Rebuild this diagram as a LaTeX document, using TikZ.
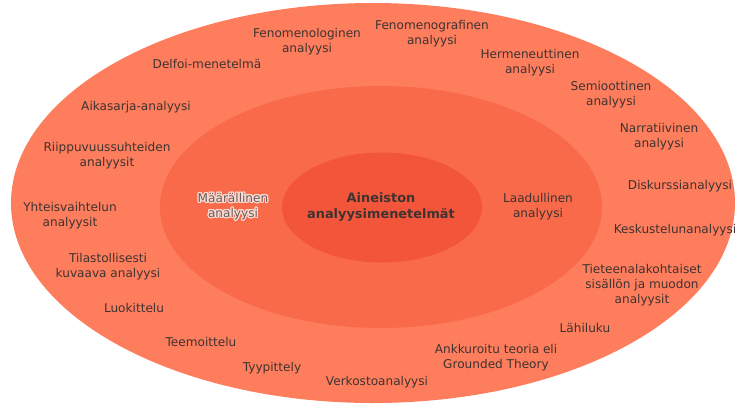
\documentclass[tikz,border=0pt]{standalone}
\usepackage{fontspec}
\setmainfont{DejaVu Sans}
\usepackage{contour}
\contourlength{1.1pt}
\contournumber{24}
\definecolor{outerc}{HTML}{FE7D5C}
\definecolor{midc}{HTML}{F86A4A}
\definecolor{innerc}{HTML}{F3553A}
\definecolor{txt}{HTML}{3E3331}
\begin{document}
\begin{tikzpicture}[x=1pt,y=-1pt,
  lbl/.style={align=center,text=txt,font=\fontsize{12.1}{15}\selectfont,inner sep=0pt}]
\useasboundingbox (0,0) rectangle (739,405);
\fill[outerc] (373,203) ellipse [x radius=362, y radius=200];
\fill[midc] (381,207) ellipse [x radius=221, y radius=121];
\fill[innerc] (382,207.5) ellipse [x radius=100, y radius=55];
% centre
\node[lbl,font=\bfseries\fontsize{12.9}{16}\selectfont] (centre) at (381,207) {Aineiston\\analyysimenetelmät};
\node[lbl,text=txt!80!white] (maar) at (233,207) {\contour{white!75!midc}{Määrällinen}\\\contour{white!75!midc}{analyysi}};
\node[lbl] (laad) at (538,207) {Laadullinen\\analyysi};
% outer ring
\node[lbl] (fenol) at (307,42) {Fenomenologinen\\analyysi};
\node[lbl] (delfoi) at (207,64) {Delfoi-menetelmä};
\node[lbl] (aika) at (136,107) {Aikasarja-analyysi};
\node[lbl] (riipp) at (107,156) {Riippuvuussuhteiden\\analyysit};
\node[lbl] (yhteis) at (70,216) {Yhteisvaihtelun\\analyysit};
\node[lbl] (tilast) at (108,267) {Tilastollisesti\\kuvaava analyysi};
\node[lbl] (luok) at (134,308) {Luokittelu};
\node[lbl] (teem) at (201,342) {Teemoittelu};
\node[lbl] (tyyp) at (272,368) {Tyypittely};
\node[lbl] (verk) at (377,382) {Verkostoanalyysi};
\node[lbl] (ankk) at (496,358) {Ankkuroitu teoria eli\\Grounded Theory};
\node[lbl] (lahi) at (585,328) {Lähiluku};
\node[lbl] (tiet) at (642,285) {Tieteenalakohtaiset\\sisällön ja muodon\\analyysit};
\node[lbl] (kesk) at (675,230) {Keskustelunanalyysi};
\node[lbl] (disk) at (680,186) {Diskurssianalyysi};
\node[lbl] (narr) at (659,137) {Narratiivinen\\analyysi};
\node[lbl] (semi) at (611,95) {Semioottinen\\analyysi};
\node[lbl] (herm) at (530,63) {Hermeneuttinen\\analyysi};
\node[lbl] (fenog) at (432,34) {Fenomenografinen\\analyysi};
\end{tikzpicture}
\end{document}
